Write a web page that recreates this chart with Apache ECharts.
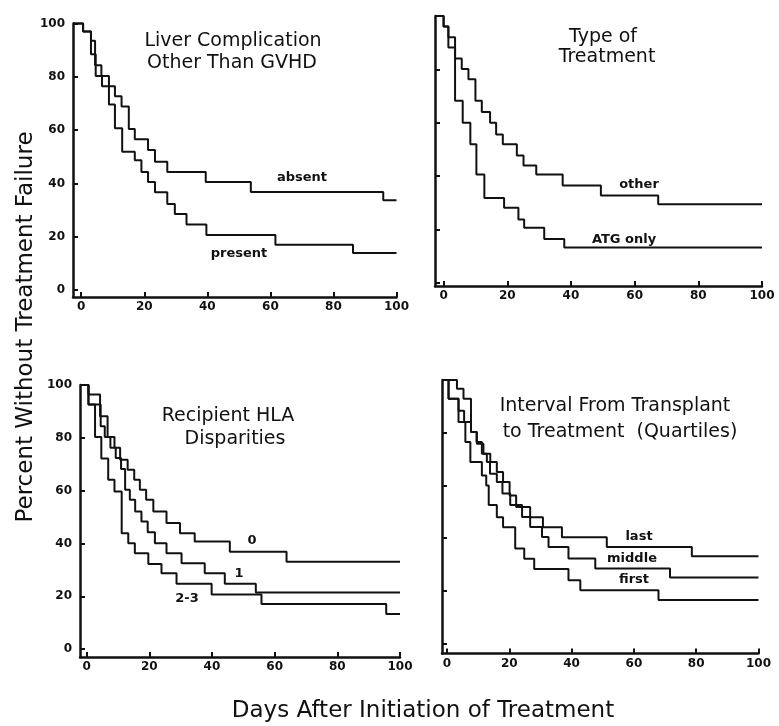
<!DOCTYPE html>
<html>
<head>
<meta charset="utf-8">
<script src="https://cdn.jsdelivr.net/npm/echarts@6/dist/echarts.min.js"></script>
<style>
  html, body { margin: 0; padding: 0; background: #fff; }
  #chart { width: 779px; height: 726px; }
</style>
</head>
<body>
<div id="chart"></div>
<script>
// tick values shared by every panel
const tickValues = [0, 20, 40, 60, 80, 100];

// panel 1: liver complication other than GVHD
const absentDays = [0.6, 3.1, 4.4, 6.4, 8.8, 10.7, 12.8, 15.1, 17.0, 21.2, 23.4, 27.3, 39.5, 53.8, 95.8, 100];
const absentPct = [97, 93.5, 84.3, 80.3, 76.5, 72.7, 68.9, 60.4, 56.6, 52.5, 48.1, 44.3, 40.5, 36.8, 33.7, 33.7];
const presentDays = [0.6, 3.1, 4.6, 6.6, 8.8, 10.7, 13.0, 17.0, 19.1, 21.2, 23.4, 27.3, 29.7, 33.4, 39.7, 61.6, 86.2, 100];
const presentPct = [97, 88.5, 80.3, 76.5, 69.6, 60.7, 51.9, 48.7, 44.3, 40.5, 36.7, 32.3, 28.5, 24.6, 20.7, 17.0, 13.9, 13.9];

// panel 2: type of treatment
const otherDays = [0, 1.5, 3.6, 5.7, 7.8, 10.0, 12.0, 14.6, 16.5, 18.6, 23.0, 25.1, 29.1, 37.4, 49.4, 67.4, 100];
const otherPct = [96.1, 92.0, 84.1, 80.1, 76.3, 68.2, 64.0, 60.0, 55.6, 51.9, 47.7, 44.0, 40.6, 36.5, 32.7, 29.4, 29.4];
const atgDays = [0, 1.5, 3.6, 6.0, 8.4, 10.3, 12.8, 19.0, 23.5, 25.3, 31.6, 37.9, 100];
const atgPct = [96.1, 88.2, 68.2, 60.0, 51.9, 40.6, 31.8, 28.1, 23.7, 20.6, 16.4, 13.2, 13.2];

// panel 3: recipient HLA disparities
const zeroDays = [0.6, 4.3, 6.7, 8.9, 10.7, 13.1, 15.2, 17.0, 19.0, 21.3, 25.5, 29.8, 34.5, 45.7, 63.8, 100];
const zeroPct = [96.4, 88.2, 80.3, 76.2, 71.7, 67.9, 64.1, 60.3, 56.5, 52.1, 47.7, 43.9, 40.7, 36.9, 33.1, 33.1];
const oneDays = [0.6, 4.5, 5.8, 7.6, 9.3, 11.0, 12.3, 13.8, 15.5, 17.5, 19.5, 21.8, 25.5, 30.3, 37.7, 44.1, 54.0, 100];
const onePct = [92.6, 84.4, 80.3, 76.2, 72.4, 68.2, 60.3, 56.5, 52.1, 48.3, 44.2, 40.1, 36.3, 32.5, 28.7, 24.7, 21.4, 21.4];
const twoThreeDays = [0.6, 2.7, 4.7, 6.9, 8.9, 11.2, 13.3, 15.4, 19.7, 23.9, 28.7, 39.9, 55.8, 95.6, 100];
const twoThreePct = [92.6, 80.3, 72.2, 64.1, 59.7, 43.9, 40.1, 36.3, 32.2, 28.7, 24.7, 20.7, 17.1, 13.3, 13.3];

// panel 4: interval from transplant to treatment (quartiles)
const lastDays = [3.2, 5.3, 7.7, 9.6, 11.7, 13.9, 16.0, 18.0, 20.1, 22.2, 26.7, 30.8, 36.9, 51.3, 78.6, 100];
const lastPct = [96.7, 92.9, 80.3, 75.8, 72.0, 68.9, 65.1, 61.3, 56.2, 51.8, 48.0, 44.2, 40.4, 36.7, 33.2, 33.2];
const middleDays = [0.5, 3.7, 5.5, 7.7, 9.5, 11.2, 12.8, 13.8, 16.0, 17.8, 20.3, 24.1, 26.7, 30.5, 32.6, 39.0, 47.6, 71.6, 100];
const middlePct = [92.9, 88.3, 84.1, 80.3, 76.5, 72.0, 68.9, 64.5, 61.3, 57.0, 52.6, 48.1, 44.3, 40.5, 36.7, 32.3, 28.5, 25.1, 25.1];
const firstDays = [0.5, 3.7, 5.9, 7.5, 11.2, 12.6, 13.4, 16.0, 18.0, 21.9, 24.8, 28.0, 39.0, 42.8, 67.9, 100];
const firstPct = [92.9, 84.1, 76.5, 68.9, 63.8, 60.0, 52.6, 48.0, 44.2, 36.1, 32.2, 28.3, 24.1, 20.3, 16.6, 16.6];

const FONT = '"DejaVu Sans", "Liberation Sans", Arial, sans-serif';
const INK = '#111';

// panel boxes, axis extents and annotation text
const panels = [
  { grid: { left: 73, top: 23.5, width: 323.5, height: 273.5 }, xMin: -2.6, yMin: -2.6, yLabels: true,
    title: [['Liver Complication', 233, 41], ['Other Than GVHD', 232, 63]],
    curves: [[absentDays, absentPct], [presentDays, presentPct]],
    labels: [['absent', 302, 178], ['present', 239, 254]] },
  { grid: { left: 435, top: 16, width: 327, height: 270 }, xMin: -2.7, yMin: -1.2, yLabels: false,
    title: [['Type of', 603, 37], ['Treatment', 607, 57]],
    curves: [[otherDays, otherPct], [atgDays, atgPct]],
    labels: [['other', 639, 185], ['ATG only', 624, 240]] },
  { grid: { left: 80, top: 385, width: 320, height: 272 }, xMin: -2.1, yMin: -3, yLabels: true,
    title: [['Recipient HLA', 228, 416], ['Disparities', 235, 439]],
    curves: [[zeroDays, zeroPct], [oneDays, onePct], [twoThreeDays, twoThreePct]],
    labels: [['0', 252, 541], ['1', 239, 574], ['2-3', 187, 599]] },
  { grid: { left: 442, top: 380, width: 316.5, height: 273.5 }, xMin: -1.6, yMin: -3.7, yLabels: false,
    title: [['Interval From Transplant', 615, 406], ['to Treatment  (Quartiles)', 620, 432]],
    curves: [[lastDays, lastPct], [middleDays, middlePct], [firstDays, firstPct]],
    labels: [['last', 639, 537], ['middle', 632, 559], ['first', 634, 580]] }
];

// every curve starts at 100% where the axes meet, then steps down at each event
function stepPoints(days, pct, xMin) {
  const pts = [[xMin, 100]];
  days.forEach((d, i) => pts.push([d, pct[i]]));
  return pts;
}

function text(str, x, y, font, extra) {
  return Object.assign({
    type: 'text', x: x, y: y, silent: true,
    style: { text: str, font: font, fill: INK, textAlign: 'center', textVerticalAlign: 'middle',
             align: 'center', verticalAlign: 'middle' }
  }, extra || {});
}

const chart = echarts.init(document.getElementById('chart'), null, { renderer: 'canvas' });

const series = [];
const graphics = [];
panels.forEach((p, i) => {
  p.curves.forEach(c => {
    series.push({
      type: 'line', xAxisIndex: i, yAxisIndex: i, step: 'end',
      data: stepPoints(c[0], c[1], p.xMin),
      symbol: 'none', clip: false, silent: true,
      lineStyle: { color: INK, width: 2 }
    });
  });
  p.title.forEach(t => graphics.push(text(t[0], t[1], t[2], '19px ' + FONT)));
  p.labels.forEach(l => graphics.push(text(l[0], l[1], l[2], 'bold 13px ' + FONT)));
});

// shared axis titles
graphics.push(text('Percent Without Treatment Failure', 26, 327, '23px ' + FONT, { rotation: Math.PI / 2 }));
graphics.push(text('Days After Initiation of Treatment', 423, 711, '23px ' + FONT));

chart.setOption({
  animation: false,
  backgroundColor: '#fff',
  grid: panels.map(p => Object.assign({ outerBoundsMode: 'none', containLabel: false }, p.grid)),
  xAxis: panels.map((p, i) => ({
    gridIndex: i, type: 'value', min: p.xMin, max: 100,
    axisLine: { show: true, onZero: false, lineStyle: { color: INK, width: 2.5 } },
    axisTick: { show: true, inside: true, length: 5, customValues: tickValues, lineStyle: { color: INK, width: 2 } },
    axisLabel: { show: true, customValues: tickValues, margin: 4, color: INK,
                 fontFamily: FONT, fontWeight: 'bold', fontSize: 12 },
    splitLine: { show: false }
  })),
  yAxis: panels.map((p, i) => ({
    gridIndex: i, type: 'value', min: p.yMin, max: 100,
    axisLine: { show: true, onZero: false, lineStyle: { color: INK, width: 2.5 } },
    axisTick: { show: true, inside: true, length: 5, customValues: tickValues, lineStyle: { color: INK, width: 2 } },
    axisLabel: { show: p.yLabels, customValues: tickValues, margin: 8, color: INK,
                 fontFamily: FONT, fontWeight: 'bold', fontSize: 12 },
    splitLine: { show: false }
  })),
  graphic: graphics,
  series: series
});
</script>
</body>
</html>
